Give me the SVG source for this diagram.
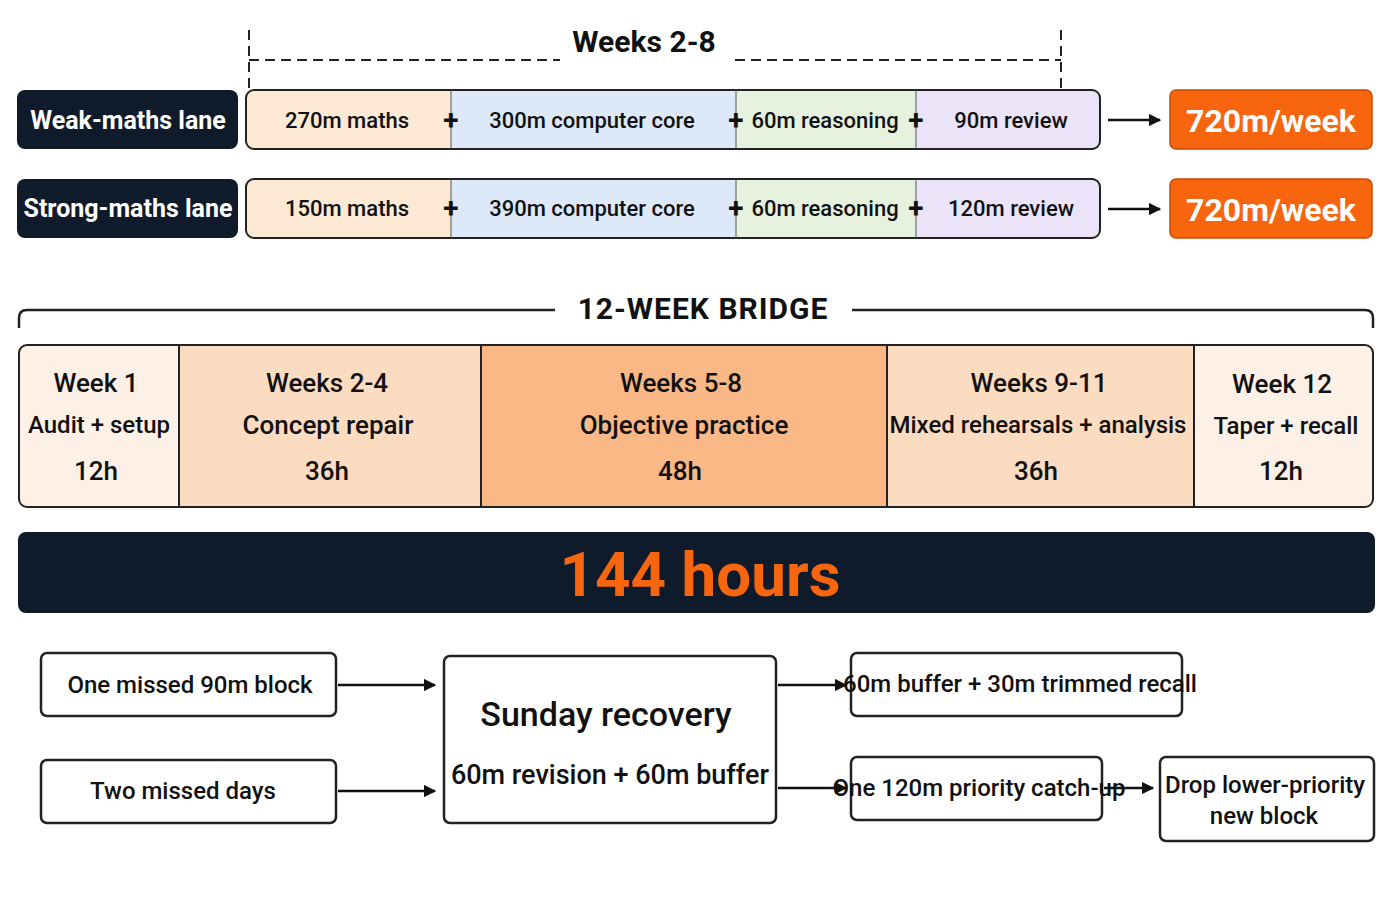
<svg xmlns="http://www.w3.org/2000/svg" width="1400" height="900" viewBox="0 0 1400 900">
<defs>
<marker id="ah" viewBox="0 0 10 10" refX="9" refY="5" markerWidth="5" markerHeight="5" orient="auto"><path d="M0,0 L10,5 L0,10 z" fill="#111"/></marker>
</defs>
<style>
text{font-family:Roboto,"Liberation Sans",sans-serif;text-anchor:middle;fill:#111;font-weight:500}
.lane{fill:#0f1a2b}
.lt{fill:#fff;font-size:25px;font-weight:bold}
.seg{font-size:22px}
.plus{font-size:28px;font-weight:bold}
.ob{fill:#f7650f;stroke:#c94a05;stroke-width:1.5}
.ot{fill:#fff;font-size:32px;font-weight:bold}
.box{fill:#fff;stroke:#222;stroke-width:2.5}
.bt{font-size:24px}
.cell{stroke:#222;stroke-width:2}
.c1{font-size:26px}
.c2{font-size:24px}
.conn{stroke:#111;stroke-width:2.5;fill:none;marker-end:url(#ah)}
</style>
<rect width="1400" height="900" fill="#fff"/>
<g id="weeks28">
<path d="M249,30V88M1061,30V88M249,60H560M735,60H1061" stroke="#222" stroke-width="2" stroke-dasharray="10,6" fill="none"/>
<text x="644" y="52" style="font-size:30px;font-weight:bold">Weeks 2-8</text>
</g>
<g id="weak-lane">
<rect class="lane" x="17" y="90" width="221" height="59" rx="8"/>
<text class="lt" x="128" y="129">Weak-maths lane</text>
</g>
<g id="weak-bar">
<rect x="246" y="90" width="854" height="59" rx="8" fill="#fde9d4"/>
<rect x="451" y="91" width="285" height="57" fill="#dde9f9"/>
<rect x="736" y="91" width="180" height="57" fill="#e6f2dd"/>
<path d="M916,91H1092a7,7 0 0 1 7,7V141a7,7 0 0 1 -7,7H916z" fill="#ebe3f7"/>
<rect x="246" y="90" width="854" height="59" rx="8" fill="none" stroke="#222" stroke-width="2"/>
<path d="M451,90V149M736,90V149M916,90V149" stroke="#555" stroke-width="1"/>
<text class="seg" x="347" y="128">270m maths</text>
<text class="seg" x="592" y="128">300m computer core</text>
<text class="seg" x="825" y="128">60m reasoning</text>
<text class="seg" x="1011" y="128">90m review</text>
<text class="plus" x="451" y="130">+</text><text class="plus" x="736" y="130">+</text><text class="plus" x="916" y="130">+</text>
</g>
<g id="weak-total"><rect class="ob" x="1170" y="90" width="202" height="59" rx="6"/><text class="ot" x="1271" y="132">720m/week</text></g>
<g id="strong-lane">
<rect class="lane" x="17" y="179" width="221" height="59" rx="8"/>
<text class="lt" x="128" y="217">Strong-maths lane</text>
</g>
<g id="strong-bar">
<rect x="246" y="179" width="854" height="59" rx="8" fill="#fde9d4"/>
<rect x="451" y="180" width="285" height="57" fill="#dde9f9"/>
<rect x="736" y="180" width="180" height="57" fill="#e6f2dd"/>
<path d="M916,180H1092a7,7 0 0 1 7,7V230a7,7 0 0 1 -7,7H916z" fill="#ebe3f7"/>
<rect x="246" y="179" width="854" height="59" rx="8" fill="none" stroke="#222" stroke-width="2"/>
<path d="M451,179V238M736,179V238M916,179V238" stroke="#555" stroke-width="1"/>
<text class="seg" x="347" y="216">150m maths</text>
<text class="seg" x="592" y="216">390m computer core</text>
<text class="seg" x="825" y="216">60m reasoning</text>
<text class="seg" x="1011" y="216">120m review</text>
<text class="plus" x="451" y="218">+</text><text class="plus" x="736" y="218">+</text><text class="plus" x="916" y="218">+</text>
</g>
<g id="strong-total"><rect class="ob" x="1170" y="179" width="202" height="59" rx="6"/><text class="ot" x="1271" y="221">720m/week</text></g>
<g id="bridge">
<path d="M19,328V318q0,-8 8,-8H555M852,310H1365q8,0 8,8V328" stroke="#222" stroke-width="2.5" fill="none"/>
<text x="703" y="319" style="font-size:30px;font-weight:bold;letter-spacing:1px">12-WEEK BRIDGE</text>
<rect x="19" y="345" width="1354" height="162" rx="8" fill="#fdf0e6"/>
<rect x="179" y="346" width="302" height="160" fill="#fcdcc0"/>
<rect x="481" y="346" width="406" height="160" fill="#f9b886"/>
<rect x="887" y="346" width="307" height="160" fill="#fcdcc0"/>
<rect x="19" y="345" width="1354" height="162" rx="8" fill="none" stroke="#222" stroke-width="2"/>
<path d="M179,345V507M481,345V507M887,345V507M1194,345V507" stroke="#222" stroke-width="2"/>
</g>
<g id="w1"><text class="c1" x="96" y="392">Week 1</text><text class="c2" x="99" y="433">Audit + setup</text><text class="c1" x="96" y="480">12h</text></g>
<g id="w24"><text class="c1" x="327" y="392">Weeks 2-4</text><text class="c1" x="328" y="434">Concept repair</text><text class="c1" x="327" y="480">36h</text></g>
<g id="w58"><text class="c1" x="681" y="392">Weeks 5-8</text><text class="c1" x="684" y="434">Objective practice</text><text class="c1" x="680" y="480">48h</text></g>
<g id="w911"><text class="c1" x="1039" y="392">Weeks 9-11</text><text class="c2" x="1038" y="433">Mixed rehearsals + analysis</text><text class="c1" x="1036" y="480">36h</text></g>
<g id="w12"><text class="c1" x="1282" y="393">Week 12</text><text class="c2" x="1286" y="434">Taper + recall</text><text class="c1" x="1281" y="480">12h</text></g>
<g id="total"><rect x="18" y="532" width="1357" height="81" rx="8" fill="#0f1a2b"/><text x="700" y="596" style="font-size:62px;font-weight:bold;fill:#f7650f">144 hours</text></g>
<g id="missed90"><rect class="box" x="41" y="653" width="295" height="63" rx="6"/><text class="bt" x="190" y="693">One missed 90m block</text></g>
<g id="twodays"><rect class="box" x="41" y="760" width="295" height="63" rx="6"/><text class="bt" x="183" y="799">Two missed days</text></g>
<g id="sunday"><rect class="box" x="444" y="656" width="332" height="167" rx="6"/><text x="606" y="726" style="font-size:34px">Sunday recovery</text><text x="610" y="784" style="font-size:27px">60m revision + 60m buffer</text></g>
<g id="buffer"><rect class="box" x="851" y="653" width="331" height="63" rx="6"/><text class="bt" x="1020" y="692">60m buffer + 30m trimmed recall</text></g>
<g id="catchup"><rect class="box" x="851" y="757" width="251" height="63" rx="6"/><text class="bt" x="979" y="796">One 120m priority catch-up</text></g>
<g id="drop"><rect class="box" x="1160" y="757" width="214" height="84" rx="6"/><text class="bt" x="1265" y="793">Drop lower-priority</text><text class="bt" x="1264" y="824">new block</text></g>
<g id="connectors">
<path class="conn" d="M1108,120H1160"/>
<path class="conn" d="M1108,209H1160"/>
<path class="conn" d="M338,685H435"/>
<path class="conn" d="M338,791H435"/>
<path class="conn" d="M778,685H846"/>
<path class="conn" d="M778,788H846"/>
<path class="conn" d="M1104,788H1153"/>
</g>
</svg>
